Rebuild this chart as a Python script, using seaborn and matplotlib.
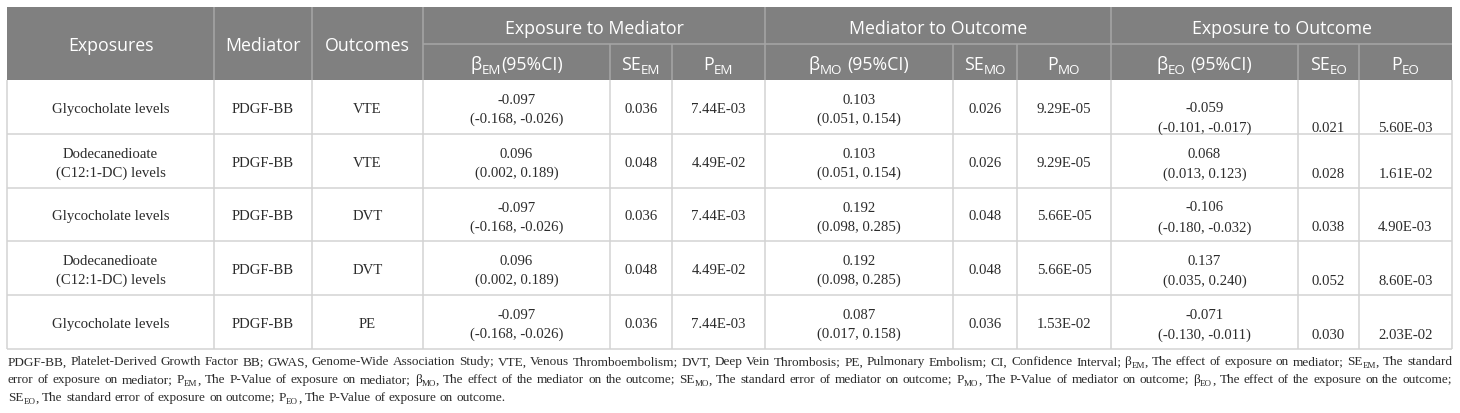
import re
import matplotlib
matplotlib.use("Agg")
import matplotlib.pyplot as plt
from matplotlib.patches import Rectangle
import seaborn as sns

# table values
exposures = ["Glycocholate levels", "Dodecanedioate\n(C12:1-DC) levels", "Glycocholate levels",
             "Dodecanedioate\n(C12:1-DC) levels", "Glycocholate levels"]
mediators = ["PDGF-BB", "PDGF-BB", "PDGF-BB", "PDGF-BB", "PDGF-BB"]
outcomes = ["VTE", "VTE", "DVT", "DVT", "PE"]
beta_em = ["-0.097", "0.096", "-0.097", "0.096", "-0.097"]
ci_em = ["(-0.168, -0.026)", "(0.002, 0.189)", "(-0.168, -0.026)", "(0.002, 0.189)", "(-0.168, -0.026)"]
se_em = ["0.036", "0.048", "0.036", "0.048", "0.036"]
p_em = ["7.44E-03", "4.49E-02", "7.44E-03", "4.49E-02", "7.44E-03"]
beta_mo = ["0.103", "0.103", "0.192", "0.192", "0.087"]
ci_mo = ["(0.051, 0.154)", "(0.051, 0.154)", "(0.098, 0.285)", "(0.098, 0.285)", "(0.017, 0.158)"]
se_mo = ["0.026", "0.026", "0.048", "0.048", "0.036"]
p_mo = ["9.29E-05", "9.29E-05", "5.66E-05", "5.66E-05", "1.53E-02"]
beta_eo = ["-0.059", "0.068", "-0.106", "0.137", "-0.071"]
ci_eo = ["(-0.101, -0.017)", "(0.013, 0.123)", "(-0.180, -0.032)", "(0.035, 0.240)", "(-0.130, -0.011)"]
se_eo = ["0.021", "0.028", "0.038", "0.052", "0.030"]
p_eo = ["5.60E-03", "1.61E-02", "4.90E-03", "8.60E-03", "2.03E-02"]

left_headers = ["Exposures", "Mediator", "Outcomes"]
group_headers = ["Exposure to Mediator", "Mediator to Outcome", "Exposure to Outcome"]
sub_headers = ["β_{EM}(95%CI)", "SE_{EM}", "P_{EM}",
               "β_{MO} (95%CI)", "SE_{MO}", "P_{MO}",
               "β_{EO} (95%CI)", "SE_{EO}", "P_{EO}"]

footnote = [
    "PDGF-BB, Platelet-Derived Growth Factor BB; GWAS, Genome-Wide Association Study; VTE, Venous "
    "Thromboembolism; DVT, Deep Vein Thrombosis; PE, Pulmonary Embolism; CI, Confidence Interval; "
    "β_{EM}, The effect of exposure on mediator; SE_{EM}, The standard",
    "error of exposure on mediator; P_{EM}, The P-Value of exposure on mediator; β_{MO}, The effect of "
    "the mediator on the outcome; SE_{MO}, The standard error of mediator on outcome; P_{MO}, The P-Value "
    "of mediator on outcome; β_{EO}, The effect of the exposure on the outcome;",
    "SE_{EO}, The standard error of exposure on outcome; P_{EO}, The P-Value of exposure on outcome.",
]

# layout (pixels)
W, H = 1460, 414
COL_EDGES = [7, 214, 312, 423, 610, 672, 765, 953, 1017, 1111, 1298, 1359, 1452]
HEAD_TOP, HEAD_MID, HEAD_BOT = 8, 45, 81
ROW_EDGES = [81, 135, 189, 242, 296, 350]
EO_ROW_SHIFT = [8, 0, 0, 0, 0]
FOOT_Y = [361, 379, 397]

HEAD_BG = "#808080"
HEAD_LINE = "#a6a6a6"
GRID = "#d3d3d3"
TXT = "#2b2b2b"
SANS = "Open Sans"
SERIF = "Liberation Serif"
HEAD_FS = 12.8
BODY_FS = 10.6

sns.set_theme(style="white")
plt.rcParams["font.family"] = ["DejaVu Sans"]

fig = plt.figure(figsize=(W / 100, H / 100), dpi=100)
ax = fig.add_axes([0, 0, 1, 1])
ax.set_xlim(0, W)
ax.set_ylim(H, 0)
ax.axis("off")
renderer = fig.canvas.get_renderer()

_cache = {}


def measure(s, size, family):
    key = (s, size, family)
    if key not in _cache:
        t = ax.text(0, 0, s, fontsize=size, family=family)
        _cache[key] = t.get_window_extent(renderer).width
        t.remove()
    return _cache[key]


def space_w(size, family):
    return measure("a a", size, family) - measure("aa", size, family)


def parse(s):
    parts = re.split(r"_\{([^}]*)\}", s)
    return [(p, i % 2 == 1) for i, p in enumerate(parts) if p]


def layout(s, size, family, sub_scale=0.72, sub_drop=0.2):
    items, x = [], 0.0
    px = size * 100 / 72
    for txt, sub in parse(s):
        fs = size * sub_scale if sub else size
        dy = px * sub_drop if sub else 0
        lead = len(txt) - len(txt.lstrip(" "))
        trail = len(txt) - len(txt.rstrip(" "))
        core = txt.strip(" ")
        x += lead * space_w(fs, family)
        if core:
            items.append((x, core, fs, dy))
            x += measure(core, fs, family)
        x += trail * space_w(fs, family)
    return items, x


def draw_rich(x, y_center, s, size, family, color, ha="center", cap=0.714, **kw):
    items, width = layout(s, size, family, **kw)
    x0 = x - width / 2 if ha == "center" else x
    base = y_center + cap * size * 100 / 72 / 2
    for ix, core, fs, dy in items:
        ax.text(x0 + ix, base + dy, core, fontsize=fs, family=family, color=color,
                ha="left", va="baseline")
    return width


def body_text(x, yc, s, dy=0):
    base = yc + dy + 0.662 * BODY_FS * 100 / 72 / 2
    ax.text(x, base, s, fontsize=BODY_FS, family=SERIF, color=TXT, ha="center", va="baseline")


# header background and inner header lines
ax.add_patch(Rectangle((COL_EDGES[0], HEAD_TOP), COL_EDGES[-1] - COL_EDGES[0], HEAD_BOT - HEAD_TOP,
                       facecolor=HEAD_BG, edgecolor="none"))
ax.hlines(HEAD_MID, COL_EDGES[3], COL_EDGES[-1], color=HEAD_LINE, lw=1.1)
for i, xe in enumerate(COL_EDGES[1:-1], start=1):
    top = HEAD_TOP if i in (1, 2, 3, 6, 9) else HEAD_MID
    ax.vlines(xe, top, HEAD_BOT, color=HEAD_LINE, lw=1.1)

centers = [(a + b) / 2 for a, b in zip(COL_EDGES[:-1], COL_EDGES[1:])]
for c, h in zip(centers[:3], left_headers):
    draw_rich(c, (HEAD_TOP + HEAD_BOT) / 2, h, HEAD_FS, SANS, "white")
for g, h in enumerate(group_headers):
    gx = (COL_EDGES[3 + 3 * g] + COL_EDGES[6 + 3 * g]) / 2
    draw_rich(gx, (HEAD_TOP + HEAD_MID) / 2 + 1, h, HEAD_FS, SANS, "white")
for c, h in zip(centers[3:], sub_headers):
    draw_rich(c, (HEAD_MID + HEAD_BOT) / 2 + 1, h, HEAD_FS, SANS, "white", sub_scale=0.75, sub_drop=0.18)

# body grid
for ye in ROW_EDGES[1:]:
    ax.hlines(ye, COL_EDGES[0], COL_EDGES[-1], color=GRID, lw=1.1)
for xe in COL_EDGES:
    ax.vlines(xe, HEAD_BOT, ROW_EDGES[-1], color=GRID, lw=1.1)

# body cells
for r in range(len(exposures)):
    yc = (ROW_EDGES[r] + ROW_EDGES[r + 1]) / 2
    lines = exposures[r].split("\n")
    if len(lines) == 2:
        body_text(centers[0], yc, lines[0], -8.5)
        body_text(centers[0], yc, lines[1], 10)
    else:
        body_text(centers[0], yc, lines[0])
    body_text(centers[1], yc, mediators[r])
    body_text(centers[2], yc, outcomes[r])
    body_text(centers[3], yc, beta_em[r], -8.5)
    body_text(centers[3], yc, ci_em[r], 10)
    body_text(centers[4], yc, se_em[r])
    body_text(centers[5], yc, p_em[r])
    body_text(centers[6], yc, beta_mo[r], -8.5)
    body_text(centers[6], yc, ci_mo[r], 10)
    body_text(centers[7], yc, se_mo[r])
    body_text(centers[8], yc, p_mo[r])
    s = EO_ROW_SHIFT[r]
    body_text(centers[9], yc, beta_eo[r], -9 + s)
    body_text(centers[9], yc, ci_eo[r], 11 + s)
    body_text(centers[10], yc, se_eo[r], 11 + s)
    body_text(centers[11], yc, p_eo[r], 11 + s)

# footnote: pick the size at which the first two lines fit with ordinary word spaces,
# then justify them; the last line stays left aligned
x_left, x_right = 8, 1452
avail = x_right - x_left
foot_words = [line.split(" ") for line in footnote]


def natural(words, fs):
    ws = sum(layout(wd, fs, SERIF, sub_scale=0.68)[1] for wd in words)
    return ws + (len(words) - 1) * space_w(fs, SERIF) * 1.05


FOOT_FS = 8.0
while all(natural(foot_words[k], FOOT_FS + 0.1) <= avail for k in (0, 1)):
    FOOT_FS = round(FOOT_FS + 0.1, 2)

for i, words in enumerate(foot_words):
    yc = FOOT_Y[i]
    lays = [layout(wd, FOOT_FS, SERIF, sub_scale=0.68, sub_drop=0.2) for wd in words]
    total = sum(w for _, w in lays)
    if i < len(foot_words) - 1:
        gap = (avail - total) / (len(words) - 1)
    else:
        gap = space_w(FOOT_FS, SERIF)
    x = x_left
    base = yc + 0.662 * FOOT_FS * 100 / 72 / 2
    for items, w in lays:
        for ix, core, fs, dy in items:
            ax.text(x + ix, base + dy, core, fontsize=fs, family=SERIF, color=TXT,
                    ha="left", va="baseline")
        x += w + gap

fig.savefig("out.png", dpi=100, facecolor="white")
